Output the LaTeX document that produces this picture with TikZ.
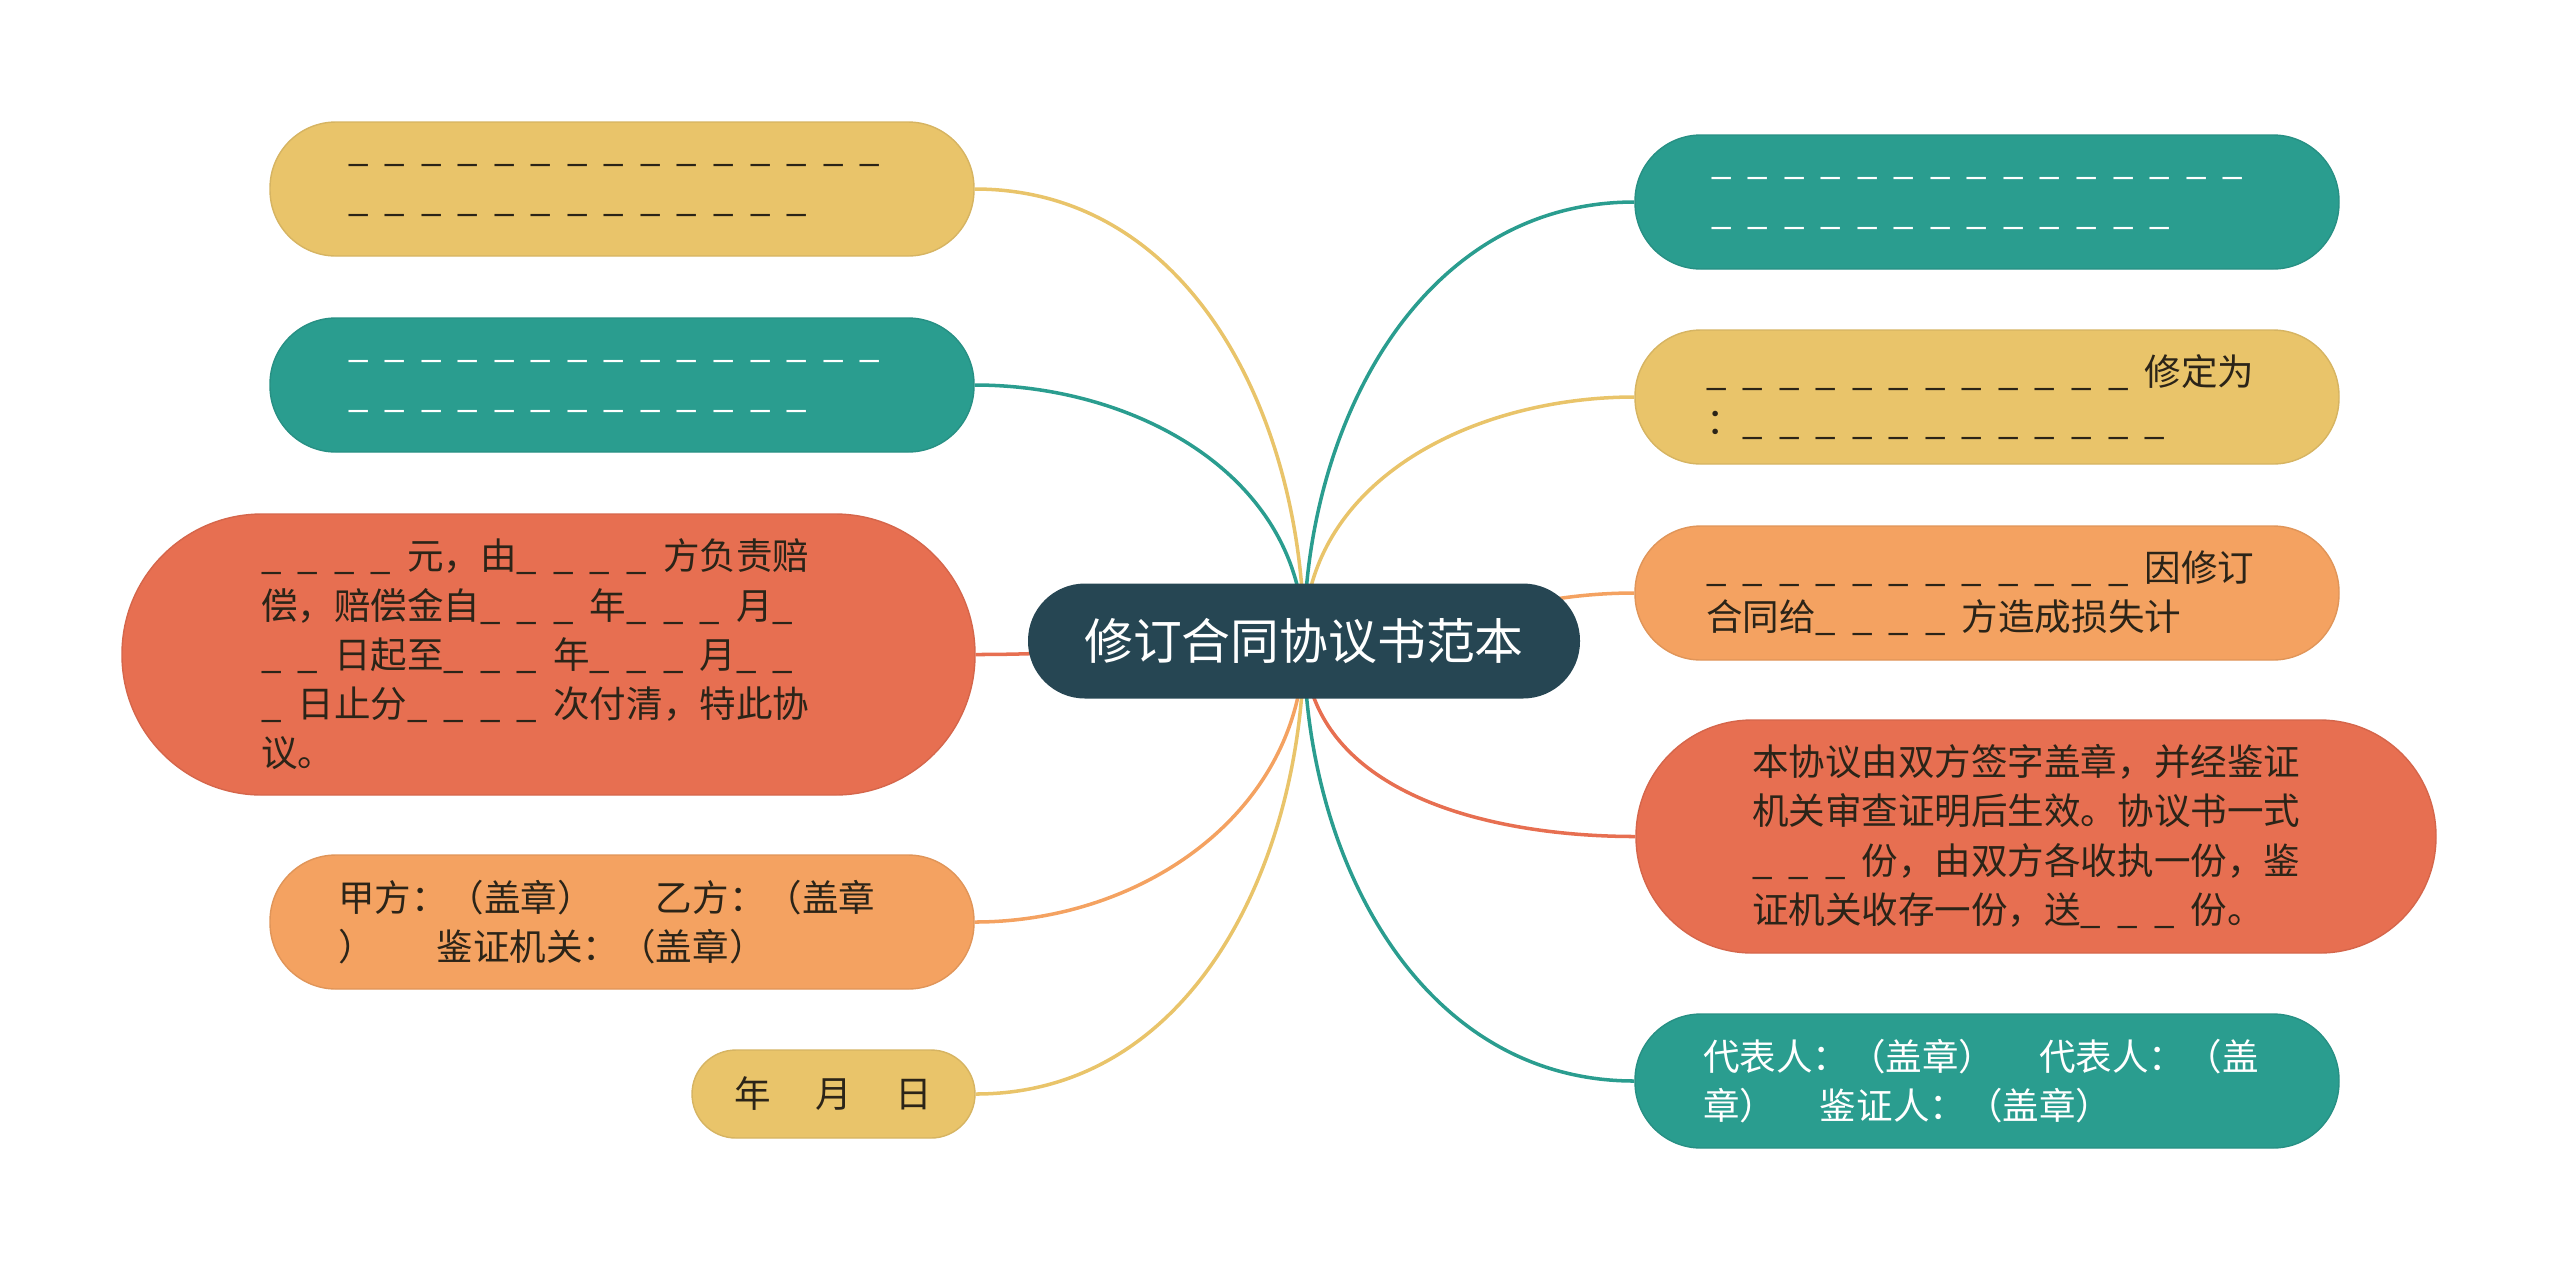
\documentclass[tikz,border=0pt]{standalone}
\usepackage{fontspec}
\setmainfont{Noto Sans CJK SC}
\usepackage{tikz}
\usetikzlibrary{backgrounds}
\definecolor{cyel}{HTML}{E9C46A}
\definecolor{cteal}{HTML}{2A9D8F}
\definecolor{cred}{HTML}{E76F51}
\definecolor{corg}{HTML}{F4A261}
\definecolor{cdark}{HTML}{264653}
\definecolor{ctext}{HTML}{2B2418}
\newcommand{\bl}[1]{\foreach \k in {1,...,#1}{\makebox[1em][l]{\_}}}
\tikzset{
  leaf/.style={rectangle, rounded corners=0.66cm, minimum width=7.04cm, minimum height=1.34cm,
    inner sep=0pt, align=left, font=\fontsize{10.4pt}{14pt}\selectfont},
  yel/.style={leaf, fill=cyel, draw=cyel!92!black, text=ctext},
  teal/.style={leaf, fill=cteal, draw=cteal!92!black, text=white},
  red/.style={leaf, fill=cred, draw=cred!92!black, text=ctext},
  org/.style={leaf, fill=corg, draw=corg!92!black, text=ctext},
  link/.style={line width=1pt},
}

\begin{document}
\begin{tikzpicture}
            \useasboundingbox (0,0) rectangle (25.6,-12.72);

            \node[rectangle, rounded corners=0.57cm, fill=cdark, text=white, minimum width=5.52cm,
              minimum height=1.15cm, font=\fontsize{13.9pt}{17pt}\selectfont] (root) at (13.04,-6.41) {修订合同协议书范本};

            % left side
            \node[yel, text width=5.48cm] (l1) at (6.22,-1.89) {\bl{15}\\\bl{13}};
            \node[teal, text width=5.48cm] (l2) at (6.22,-3.85) {\bl{15}\\\bl{13}};
            \node[red, text width=5.75cm, minimum width=8.53cm, minimum height=2.81cm, rounded corners=1.4cm] (l3) at (5.485,-6.545)
              {\bl{4}元，由\bl{4}方负责赔\\偿，赔偿金自\bl{3}年\bl{3}月\bl{1}\\\bl{2}日起至\bl{3}年\bl{3}月\bl{2}\\\bl{1}日止分\bl{4}次付清，特此协\\议。};
            \node[org, text width=5.68cm] (l4) at (6.22,-9.22)
              {甲方：（盖章）\hspace{1.7em}乙方：（盖章\\）\hspace{1.7em}鉴证机关：（盖章）};
            \node[yel, align=center, minimum width=2.83cm, minimum height=0.88cm, rounded corners=0.44cm] (l5) at (8.335,-10.94)
              {年\hspace{1.2em}月\hspace{1.2em}日};

            % right side
            \node[teal, text width=5.52cm] (r1) at (19.87,-2.02) {\bl{15}\\\bl{13}};
            \node[yel, text width=5.62cm] (r2) at (19.87,-3.97) {\bl{12}修定为\\：\bl{12}};
            \node[org, text width=5.62cm] (r3) at (19.87,-5.93) {\bl{12}因修订\\合同给\bl{4}方造成损失计};
            \node[red, text width=5.68cm, minimum width=8cm, minimum height=2.33cm, rounded corners=1.16cm] (r4) at (20.36,-8.365)
              {本协议由双方签字盖章，并经鉴证\\机关审查证明后生效。协议书一式\\\bl{3}份，由双方各收执一份，鉴\\证机关收存一份，送\bl{3}份。};
            \node[teal, text width=5.68cm] (r5) at (19.87,-10.81)
              {代表人：（盖章）\hspace{1.2em}代表人：（盖\\章）\hspace{1.2em}鉴证人：（盖章）};

            \begin{scope}[on background layer]
            \draw[link, cyel] (root.center) to[out=90,in=0] (l1.east);
            \draw[link, cteal] (root.center) to[out=90,in=0] (l2.east);
            \draw[link, cred] (root.center) to[out=180,in=0] (l3.east);
            \draw[link, corg] (root.center) to[out=-90,in=0] (l4.east);
            \draw[link, cyel] (root.center) to[out=-90,in=0] (l5.east);

            \draw[link, cteal] (root.center) to[out=90,in=180] (r1.west);
            \draw[link, cyel] (root.center) to[out=90,in=180] (r2.west);
            \draw[link, corg] (root.center) to[out=0,in=180] (r3.west);
            \draw[link, cred] (root.center) to[out=-90,in=180] (r4.west);
            \draw[link, cteal] (root.center) to[out=-90,in=180] (r5.west);
            \end{scope}
\end{tikzpicture}
\end{document}
